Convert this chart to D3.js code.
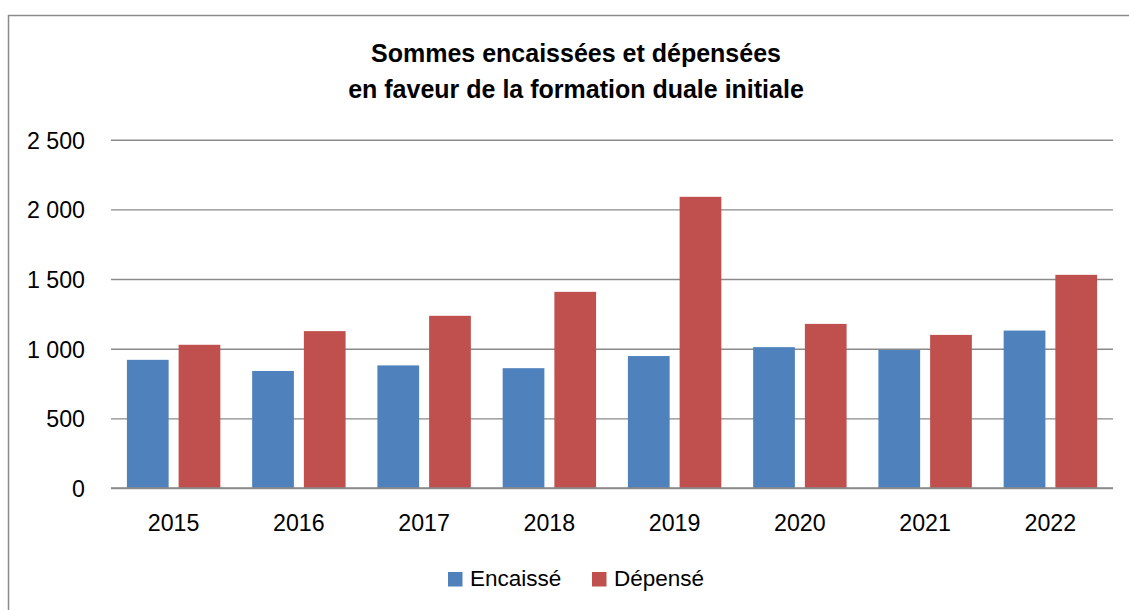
<!DOCTYPE html>
<html>
<head>
<meta charset="utf-8">
<script src="https://cdn.jsdelivr.net/npm/d3@7"></script>
<style>
  html, body { margin: 0; padding: 0; background: #fff; }
  svg { display: block; }
  text { font-family: "Liberation Sans", Arial, sans-serif; fill: #000; }
</style>
</head>
<body>
<svg id="chart" width="1129" height="610"></svg>
<script>
const years = ["2015", "2016", "2017", "2018", "2019", "2020", "2021", "2022"];
const seriesNames = ["Encaissé", "Dépensé"];
const encaisse = [920, 840, 880, 860, 947, 1011, 991, 1130];
const depense = [1028, 1126, 1236, 1408, 2090, 1178, 1099, 1530];
const yTicks = [0, 500, 1000, 1500, 2000, 2500];
const colors = ["#4F81BD", "#C0504D"];
const titleLines = ["Sommes encaissées et dépensées", "en faveur de la formation duale initiale"];

const svg = d3.select("#chart");
const plot = { left: 111, right: 1113, top: 139.7, bottom: 488 };

// chart frame
svg.append("rect")
  .attr("x", 8.5).attr("y", 15.5)
  .attr("width", 1300).attr("height", 800)
  .attr("fill", "#fff")
  .attr("stroke", "#8a8a8a").attr("stroke-width", 1.5);

// title
svg.append("g").selectAll("text").data(titleLines).join("text")
  .attr("x", 576)
  .attr("y", (d, i) => i === 0 ? 61.5 : 98)
  .attr("text-anchor", "middle")
  .attr("font-weight", "bold")
  .attr("font-size", "25px")
  .text(d => d);

const y = d3.scaleLinear().domain([0, 2500]).range([plot.bottom, plot.top]);
const x0 = d3.scaleBand().domain(years).range([plot.left, plot.right])
  .paddingInner(0.254).paddingOuter(0.127);
const x1 = d3.scaleBand().domain(seriesNames).range([0, x0.bandwidth()])
  .paddingInner(0.193);

const fmt = d3.formatLocale({ decimal: ",", thousands: " ", grouping: [3], currency: ["", ""] }).format(",d");

// y axis with gridlines
const yAxis = svg.append("g")
  .attr("transform", `translate(${plot.left},0)`)
  .call(d3.axisLeft(y).tickValues(yTicks).tickFormat(fmt)
    .tickSize(-(plot.right - plot.left)).tickPadding(26));
yAxis.select(".domain").remove();
yAxis.selectAll(".tick line").attr("stroke", "#8a8a8a").attr("stroke-width", 1.4);
yAxis.selectAll(".tick text")
  .attr("font-size", "23.2px")
  .attr("font-family", "'Liberation Sans', Arial, sans-serif")
  .attr("fill", "#000")
  .attr("dy", "0.36em");

// bars
const data = years.map((yr, i) => ({ year: yr, values: [encaisse[i], depense[i]] }));
const groups = svg.append("g").selectAll("g").data(data).join("g")
  .attr("transform", d => `translate(${x0(d.year)},0)`);
groups.selectAll("rect").data(d => d.values.map((v, j) => ({ name: seriesNames[j], v, j })))
  .join("rect")
  .attr("x", d => x1(d.name))
  .attr("width", x1.bandwidth())
  .attr("y", d => y(d.v))
  .attr("height", d => y(0) - y(d.v))
  .attr("fill", d => colors[d.j]);

// baseline redraw on top
svg.append("line")
  .attr("x1", plot.left).attr("x2", plot.right)
  .attr("y1", y(0)).attr("y2", y(0))
  .attr("stroke", "#8a8a8a").attr("stroke-width", 1.4);

// x axis
const xAxis = svg.append("g")
  .attr("transform", `translate(0,${plot.bottom})`)
  .call(d3.axisBottom(x0).tickSize(0));
xAxis.select(".domain").remove();
xAxis.selectAll(".tick text")
  .attr("font-size", "23.2px")
  .attr("font-family", "'Liberation Sans', Arial, sans-serif")
  .attr("fill", "#000")
  .attr("y", 43).attr("dy", 0);

// legend
const legendItems = [
  { name: seriesNames[0], color: colors[0], sx: 448, tx: 470 },
  { name: seriesNames[1], color: colors[1], sx: 592, tx: 614 }
];
const lg = svg.append("g");
lg.selectAll("rect").data(legendItems).join("rect")
  .attr("x", d => d.sx).attr("y", 572)
  .attr("width", 14.5).attr("height", 14.5)
  .attr("fill", d => d.color);
lg.selectAll("text").data(legendItems).join("text")
  .attr("x", d => d.tx).attr("y", 586)
  .attr("font-size", "22.5px")
  .text(d => d.name);
</script>
</body>
</html>
